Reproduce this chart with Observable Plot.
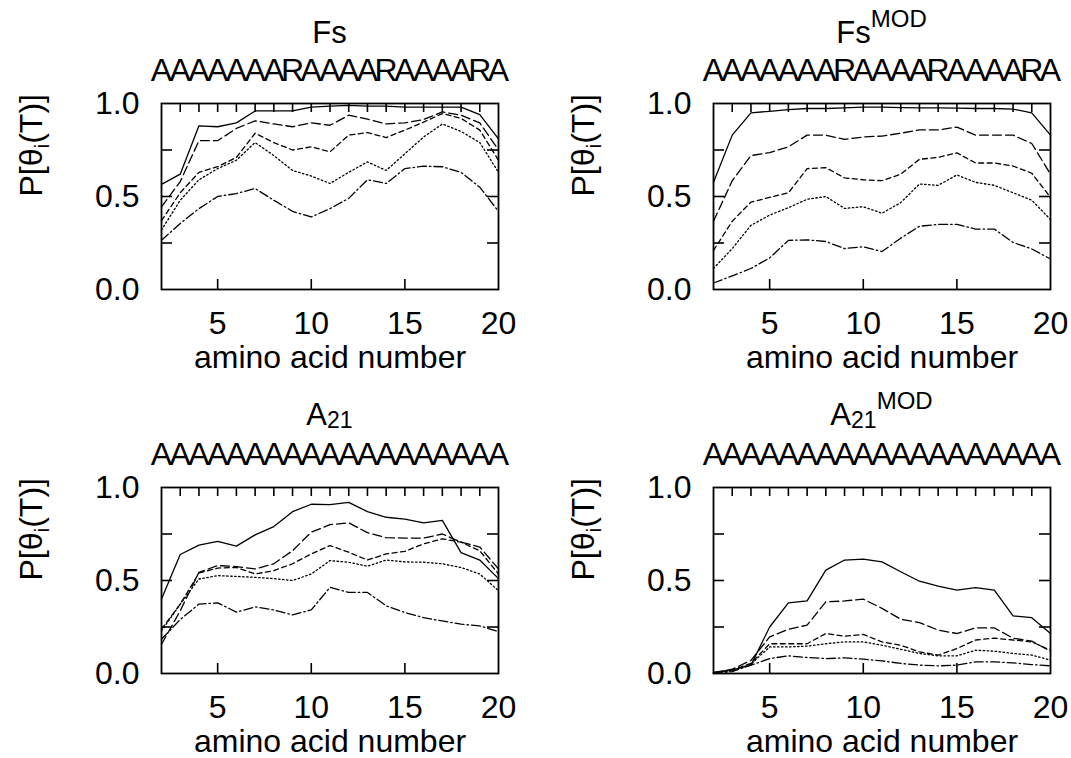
<!DOCTYPE html>
<html><head><meta charset="utf-8">
<script src="https://cdn.jsdelivr.net/npm/d3@7"></script>
<script src="https://cdn.jsdelivr.net/npm/@observablehq/plot@0.6"></script>
<style>
html,body{margin:0;padding:0;background:#fff;width:1071px;height:758px;overflow:hidden;font-family:"Liberation Sans",Arial,Helvetica,sans-serif;color:#000}
.panel{position:absolute;width:519px;height:372px}
.panel svg{position:absolute;left:0;top:0;overflow:visible}
.title{position:absolute;left:161px;width:337px;text-align:center;font-size:31px;line-height:31px;top:17px;white-space:nowrap;z-index:2}
.title.low{top:15px}
.sup{font-size:24px;position:relative;top:-16px;line-height:0}
.sub{font-size:23px;position:relative;top:3px;line-height:0}
</style></head><body>
<div id="root"></div>
<script>
// amino acid positions
const residues = [2,3,4,5,6,7,8,9,10,11,12,13,14,15,16,17,18,19,20];
const xTickLabels = [5,10,15,20];
const xMajorTicks = [5,10,15];
const xMinorTicks = [3,4,5,6,7,8,9,10,11,12,13,14,15,16,17,18,19];
const yTickLabels = [0,0.5,1];
const yMinorTicks = [0.25,0.5,0.75];
const xLabel = "amino acid number";
const yLabel = "P[θi(T)]";
const seqFs = "AAAAAAARAAAARAAAARA".split("");
const seqA21 = "AAAAAAAAAAAAAAAAAAA".split("");
const seriesNames = ["solid","long dash","short dash","dotted","dash-dot"];
const dashes = [undefined,"9,4","5,3.5","1.5,2.5","9,3,1.5,3"];

// Fs
const fsSolid = [0.565,0.62,0.88,0.875,0.896,0.96,0.96,0.96,0.98,0.986,0.99,0.986,0.986,0.98,0.98,0.98,0.98,0.94,0.81];
const fsLongDash = [0.444,0.58,0.80,0.80,0.866,0.907,0.89,0.875,0.896,0.883,0.937,0.916,0.89,0.896,0.914,0.955,0.937,0.896,0.75];
const fsShortDash = [0.37,0.52,0.63,0.66,0.71,0.84,0.79,0.75,0.767,0.74,0.83,0.844,0.817,0.857,0.90,0.946,0.92,0.857,0.695];
const fsDotted = [0.32,0.48,0.59,0.65,0.695,0.79,0.72,0.64,0.61,0.57,0.63,0.686,0.64,0.73,0.82,0.89,0.85,0.79,0.63];
const fsDashDot = [0.265,0.355,0.435,0.50,0.516,0.543,0.48,0.42,0.39,0.435,0.49,0.59,0.57,0.65,0.663,0.66,0.63,0.55,0.42];
// Fs MOD
const fsmSolid = [0.576,0.83,0.95,0.958,0.967,0.973,0.973,0.976,0.98,0.98,0.978,0.976,0.976,0.975,0.973,0.973,0.97,0.95,0.83];
const fsmLongDash = [0.367,0.585,0.72,0.736,0.767,0.83,0.83,0.807,0.82,0.825,0.84,0.858,0.858,0.873,0.83,0.83,0.83,0.785,0.62];
const fsmShortDash = [0.21,0.367,0.47,0.495,0.52,0.65,0.655,0.60,0.59,0.585,0.62,0.70,0.71,0.735,0.68,0.68,0.664,0.625,0.495];
const fsmDotted = [0.113,0.22,0.345,0.40,0.44,0.485,0.50,0.436,0.445,0.41,0.467,0.567,0.56,0.616,0.576,0.56,0.52,0.48,0.376];
const fsmDashDot = [0.035,0.073,0.113,0.17,0.264,0.267,0.258,0.22,0.23,0.204,0.276,0.34,0.35,0.35,0.325,0.325,0.253,0.218,0.164];
// A21
const aSolid = [0.40,0.64,0.69,0.71,0.685,0.745,0.79,0.87,0.91,0.908,0.92,0.87,0.84,0.83,0.81,0.823,0.65,0.61,0.51];
const aLongDash = [0.157,0.337,0.544,0.58,0.575,0.562,0.59,0.66,0.76,0.80,0.81,0.757,0.73,0.728,0.728,0.75,0.706,0.68,0.562];
const aShortDash = [0.238,0.373,0.54,0.567,0.57,0.535,0.553,0.59,0.643,0.688,0.652,0.61,0.643,0.657,0.697,0.724,0.706,0.66,0.535];
const aDotted = [0.229,0.373,0.508,0.526,0.522,0.517,0.51,0.50,0.535,0.607,0.598,0.577,0.61,0.60,0.598,0.59,0.57,0.535,0.445];
const aDashDot = [0.184,0.29,0.373,0.38,0.33,0.358,0.342,0.315,0.342,0.463,0.436,0.436,0.364,0.328,0.30,0.283,0.265,0.256,0.225];
// A21 MOD
const amSolid = [0.005,0.018,0.045,0.25,0.38,0.39,0.556,0.61,0.615,0.60,0.547,0.496,0.47,0.448,0.462,0.448,0.31,0.30,0.215];
const amLongDash = [0.005,0.023,0.07,0.197,0.238,0.26,0.385,0.39,0.40,0.35,0.292,0.274,0.233,0.215,0.245,0.245,0.19,0.174,0.12];
const amShortDash = [0.005,0.02,0.054,0.16,0.16,0.16,0.215,0.20,0.21,0.17,0.152,0.116,0.099,0.134,0.18,0.19,0.18,0.17,0.125];
const amDotted = [0.005,0.015,0.05,0.143,0.143,0.147,0.16,0.17,0.17,0.152,0.13,0.108,0.095,0.095,0.125,0.12,0.108,0.099,0.072];
const amDashDot = [0.0,0.01,0.045,0.08,0.095,0.086,0.08,0.084,0.077,0.068,0.054,0.045,0.041,0.045,0.063,0.063,0.057,0.048,0.041];

const panels = [
  {title: 'Fs', cls: "", seq: seqFs, values: [fsSolid,fsLongDash,fsShortDash,fsDotted,fsDashDot], left: 0, top: 0},
  {title: 'Fs<span class="sup">MOD</span>', cls: "", seq: seqFs, values: [fsmSolid,fsmLongDash,fsmShortDash,fsmDotted,fsmDashDot], left: 552, top: 0},
  {title: 'A<span class="sub">21</span>', cls: "low", seq: seqA21, values: [aSolid,aLongDash,aShortDash,aDotted,aDashDot], left: 0, top: 384},
  {title: 'A<span class="sub">21</span><span class="sup">MOD</span>', cls: "low", seq: seqA21, values: [amSolid,amLongDash,amShortDash,amDotted,amDashDot], left: 552, top: 384}
];

const W = 519, H = 372, mL = 161, mR = 21, mT = 103, mB = 83;
const fw = W - mL - mR, fh = H - mT - mB;
const root = document.getElementById("root");

panels.forEach(p => {
  const rows = [];
  seriesNames.forEach((name, si) => p.values[si].forEach((v, i) => rows.push({residue: residues[i], p: v, series: name})));
  const tickStyle = {stroke: "black", strokeWidth: 1.6};
  const marks = [
    Plot.frame({stroke: "black", strokeWidth: 1.8}),
    Plot.ruleX(xMajorTicks, {x: d => d, insetTop: fh - 10, ...tickStyle}),
    Plot.ruleX(xMinorTicks, {x: d => d, insetBottom: fh - 9, ...tickStyle}),
    Plot.ruleY(yMinorTicks, {y: d => d, insetRight: fw - 11, ...tickStyle}),
    Plot.ruleY(yMinorTicks, {y: d => d, insetLeft: fw - 11, ...tickStyle})
  ];
  seriesNames.forEach((name, si) => {
    marks.push(Plot.line(rows.filter(r => r.series === name), {
      x: "residue", y: "p", stroke: "black", strokeWidth: 1.3, strokeDasharray: dashes[si]
    }));
  });
  // one letter per residue, placed with the x scale
  marks.push(Plot.text(p.seq, {x: (d, i) => residues[i], text: d => d, frameAnchor: "top", lineAnchor: "bottom", dy: -23, fontSize: 32, fill: "black", ariaLabel: "residue letter"}));
  marks.push(Plot.text(xTickLabels, {x: d => d, text: d => String(d), frameAnchor: "bottom", lineAnchor: "bottom", dy: 44, fontSize: 32, fill: "black"}));
  marks.push(Plot.text(yTickLabels, {y: d => d, text: d => d.toFixed(1), frameAnchor: "left", textAnchor: "end", dx: -22, fontSize: 32, fill: "black"}));
  marks.push(Plot.text([xLabel], {text: d => d, frameAnchor: "bottom", lineAnchor: "bottom", dy: 78, fontSize: 32, fill: "black"}));
  marks.push(Plot.text([yLabel], {text: d => d, frameAnchor: "left", dx: -130, rotate: -90, fontSize: 32, fill: "black"}));

  const svg = Plot.plot({
    width: W, height: H,
    marginLeft: mL, marginRight: mR, marginTop: mT, marginBottom: mB,
    x: {domain: [2, 20], axis: null},
    y: {domain: [0, 1], axis: null},
    style: {fontFamily: '"Liberation Sans", Arial, Helvetica, sans-serif', fontSize: "32px", background: "transparent", color: "black", overflow: "visible"},
    marks
  });
  const sel = d3.select(svg).selectAll("text");
  // subscript i in the y label
  sel.filter(function() { return this.textContent === yLabel; }).each(function() {
    const t = d3.select(this);
    t.text(null);
    t.append("tspan").text("P[θ");
    t.append("tspan").attr("font-size", 21).attr("dy", 7).text("i");
    t.append("tspan").attr("dy", -7).text("(T)]");
  });
  // letters of the sequence: condensed to one residue step each so they abut
  d3.select(svg).selectAll('g[aria-label="residue letter"] text')
    .attr("textLength", 18.2).attr("lengthAdjust", "spacingAndGlyphs");
  const div = document.createElement("div");
  div.className = "panel";
  div.style.left = p.left + "px";
  div.style.top = p.top + "px";
  div.appendChild(svg);
  const title = document.createElement("div");
  title.className = "title " + p.cls;
  title.innerHTML = p.title;
  div.appendChild(title);
  root.appendChild(div);
});
</script>
</body></html>
